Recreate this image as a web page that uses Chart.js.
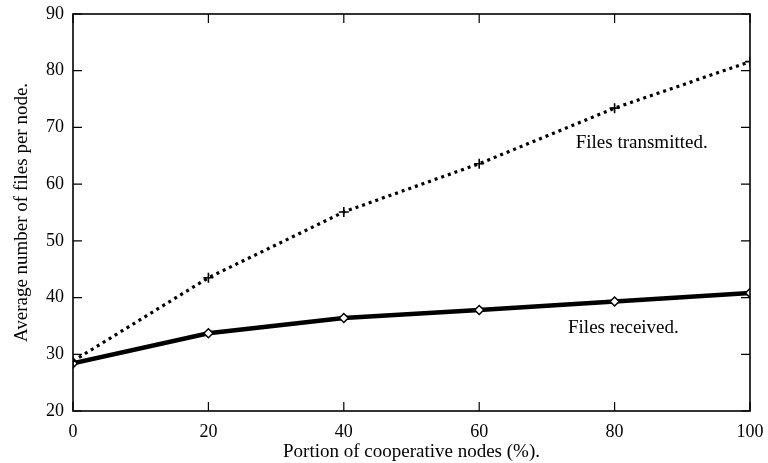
<!DOCTYPE html>
<html>
<head>
<meta charset="utf-8">
<script src="https://cdn.jsdelivr.net/npm/chart.js@4.4.1/dist/chart.umd.min.js"></script>
<style>
html,body{margin:0;padding:0;background:#fff;}
#wrap{width:768px;height:463px;}
</style>
</head>
<body>
<div id="wrap"><canvas id="chart" width="768" height="463"></canvas></div>
<script>
// portion of cooperative nodes (%)
const portions = [0, 20, 40, 60, 80, 100];
const filesTransmitted = [28.8, 43.5, 55.1, 63.6, 73.4, 81.6];
const filesReceived = [28.4, 33.7, 36.4, 37.8, 39.3, 40.8];
const xTicks = [0, 20, 40, 60, 80, 100];
const yTicks = [20, 30, 40, 50, 60, 70, 80, 90];

// in-plot curve labels: [text, x, y]
const curveNotes = [
  ['Files transmitted.', 84, 67.3],
  ['Files received.', 81.3, 34.6]
];

const serif = '"Liberation Serif", "DejaVu Serif", serif';

// frame + inward ticks on all four sides, like a gnuplot box
const frameTicks = {
  id: 'frameTicks',
  afterDatasetsDraw(chart){
    const ctx = chart.ctx, a = chart.chartArea;
    const xs = chart.scales.x, ys = chart.scales.y;
    ctx.save();
    ctx.strokeStyle = '#000';
    ctx.lineWidth = 1.6;
    ctx.strokeRect(a.left, a.top, a.right - a.left, a.bottom - a.top);
    ctx.lineWidth = 1.2;
    ctx.beginPath();
    xTicks.forEach(v=>{
      const px = xs.getPixelForValue(v);
      ctx.moveTo(px, a.bottom); ctx.lineTo(px, a.bottom - 9);
      ctx.moveTo(px, a.top); ctx.lineTo(px, a.top + 9);
    });
    yTicks.forEach(v=>{
      const py = ys.getPixelForValue(v);
      ctx.moveTo(a.left, py); ctx.lineTo(a.left + 9, py);
      ctx.moveTo(a.right, py); ctx.lineTo(a.right - 9, py);
    });
    ctx.stroke();
    ctx.fillStyle = '#000';
    ctx.font = '19px ' + serif;
    ctx.textAlign = 'center';
    ctx.textBaseline = 'middle';
    curveNotes.forEach(n=>{
      ctx.fillText(n[0], xs.getPixelForValue(n[1]), ys.getPixelForValue(n[2]));
    });
    ctx.restore();
  }
};

// keep the plot box fixed: no extra room reserved for edge tick labels
function noEdgePadding(s){
  s.paddingTop = 0; s.paddingBottom = 0;
  s.paddingLeft = 0; s.paddingRight = 0;
}

new Chart(document.getElementById('chart'), {
  type: 'line',
  data: {
    datasets: [{
      label: 'Files transmitted.',
      data: portions.map((p,i)=>({x:p, y:filesTransmitted[i]})),
      borderColor: '#000',
      borderWidth: 3.2,
      borderDash: [3, 4],
      borderCapStyle: 'butt',
      pointStyle: 'cross',
      pointRadius: 5,
      pointBorderWidth: 1.6,
      pointBorderColor: '#000',
      tension: 0
    },{
      label: 'Files received.',
      data: portions.map((p,i)=>({x:p, y:filesReceived[i]})),
      borderColor: '#000',
      borderWidth: 4.5,
      pointStyle: 'rectRot',
      pointRadius: 4.5,
      pointBorderWidth: 1.5,
      pointBorderColor: '#000',
      pointBackgroundColor: '#fff',
      tension: 0
    }]
  },
  options: {
    responsive: false,
    animation: false,
    layout: {padding: {top: 14, right: 18, left: 0, bottom: 0}},
    plugins: {legend: {display: false}, tooltip: {enabled: false}},
    scales: {
      x: {
        type: 'linear', min: 0, max: 100,
        afterBuildTicks(s){ s.ticks = xTicks.map(v=>({value:v})); },
        afterFit(s){ s.height = 52; noEdgePadding(s); },
        grid: {display: false, drawTicks: false},
        border: {display: false},
        ticks: {color: '#000', font: {family: serif, size: 18}, padding: 10, maxRotation: 0},
        title: {display: true, text: 'Portion of cooperative nodes (%).', color: '#000',
          font: {family: serif, size: 19}, padding: {top: 0, bottom: 0}}
      },
      y: {
        min: 20, max: 90,
        afterBuildTicks(s){ s.ticks = yTicks.map(v=>({value:v})); },
        afterFit(s){ s.width = 73; noEdgePadding(s); },
        grid: {display: false, drawTicks: false},
        border: {display: false},
        ticks: {color: '#000', font: {family: serif, size: 18}, padding: 9},
        title: {display: true, text: 'Average number of files per node.', color: '#000',
          font: {family: serif, size: 19}, padding: {top: 11, bottom: 0}}
      }
    }
  },
  plugins: [frameTicks]
});
</script>
</body>
</html>
